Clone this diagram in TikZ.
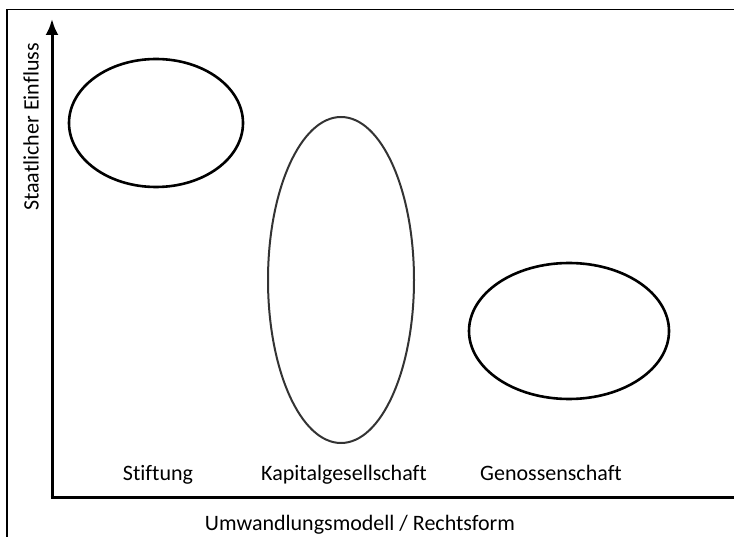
\documentclass[tikz,border=0pt]{standalone}
\usepackage{fontspec}
\setmainfont{Carlito}[Ligatures=NoCommon]
\usetikzlibrary{shapes.geometric, arrows.meta}

\begin{document}
\begin{tikzpicture}[x=1pt, y=-1pt,
  form/.style={draw, ellipse, line width=2.6pt, inner sep=0pt},
  label/.style={font=\fontsize{22}{26}\selectfont}]

\useasboundingbox (0,0) rectangle (734,537);

% Rahmen (links und oben)
\draw[line width=1.2pt] (7,537) -- (7,9.5) -- (734,9.5);

% Achsen
\coordinate (o) at (52,497);
\coordinate (ytop) at (52,19);
\coordinate (xend) at (734,497);
\draw[-{Latex[length=16pt, width=13pt]}, line width=3pt] (o) -- (ytop);
\draw[line width=3pt] ([xshift=-1.5pt]o) -- (xend);

\node[label, rotate=90] (y) at (31,127) {Staatlicher Einfluss};
\node[label, anchor=base] (x) at (360,530) {Umwandlungsmodell / Rechtsform};

% Rechtsformen
\node[form, minimum width=174pt, minimum height=128pt] (s) at (156,123) {};
\node[form, draw=black!80, line width=2pt, minimum width=146pt, minimum height=326pt] (k) at (341,280) {};
\node[form, minimum width=200pt, minimum height=136pt] (g) at (569,331) {};

\node[label, anchor=base] (ls) at (158,480) {Stiftung};
\node[label, anchor=base] (lk) at (344,480) {Kapitalgesellschaft};
\node[label, anchor=base] (lg) at (551,480) {Genossenschaft};
\end{tikzpicture}
\end{document}
